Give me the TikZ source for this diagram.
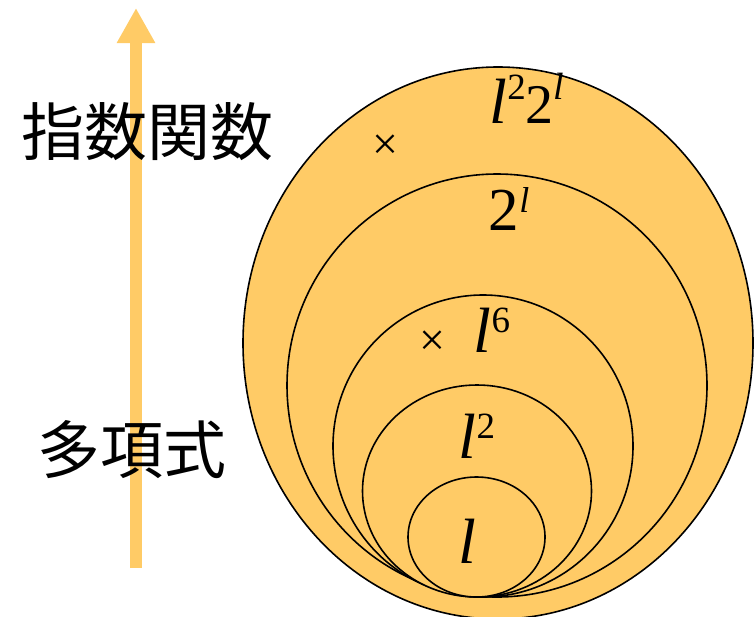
\documentclass[tikz,border=0pt]{standalone}
\usepackage{fontspec}
\setmainfont{Liberation Serif}
\newfontfamily\jpfont{Noto Sans CJK JP}
\usepackage{xcolor}
\usetikzlibrary{arrows.meta,shapes.geometric}
\definecolor{setfill}{HTML}{FFCB66}
\newcommand{\lv}{\textit{l}}
\newcommand{\expo}[2][22pt]{\raisebox{#1}{\fontsize{37}{37}\selectfont #2}}
\begin{document}
\begin{tikzpicture}[
  x=1pt,y=-1pt,
  setc/.style={ellipse,draw,fill=setfill,line width=1.6pt,inner sep=0pt},
  lbl/.style={inner sep=0pt,anchor=base,font=\fontsize{64}{66}\selectfont},
  jp/.style={inner sep=0pt,font=\jpfont\fontsize{63}{66}\selectfont},
  xmark/.style={inner sep=0pt,font=\fontsize{46}{48}\selectfont},
  risearrow/.style={line width=12pt,setfill,-{Triangle[width=36pt,length=35pt]}}
]
\useasboundingbox (0,0) rectangle (754,616);
% arrow
\coordinate (lo) at (136,568);
\coordinate (hi) at (136,8);
\draw[risearrow] (lo)--(hi);
% classes
\node[setc,minimum width=510pt,minimum height=552pt] (e1) at (498,343) {};
\node[setc,minimum width=420pt,minimum height=423pt] (e2) at (497,385.5) {};
\node[setc,minimum width=300pt,minimum height=302pt] (e3) at (483,446) {};
\node[setc,minimum width=229pt,minimum height=212pt] (e4) at (477,491) {};
\node[setc,minimum width=137pt,minimum height=120pt] (e5) at (476.5,537) {};
% labels
\node[lbl] (t1) at (527,123) {\lv\expo[24pt]{2}{\fontsize{56}{58}\selectfont 2}\expo[24pt]{\fontsize{38}{38}\selectfont\lv}};
\node[lbl] (t2) at (509,230) {{\fontsize{61}{62}\selectfont 2}\expo[18pt]{\fontsize{36}{36}\selectfont\lv}};
\node[lbl] (t3) at (492,352) {\lv\expo[20pt]{6}};
\node[lbl] (t4) at (477,458) {\lv\expo[20pt]{2}};
\node[lbl] (t5) at (467,563) {\lv};
\node[xmark] (x1) at (385,147) {×};
\node[xmark] (x2) at (432,343) {×};
\node[jp] (exp) at (147,132) {指数関数};
\node[jp] (poly) at (132,450) {多項式};
\end{tikzpicture}
\end{document}
